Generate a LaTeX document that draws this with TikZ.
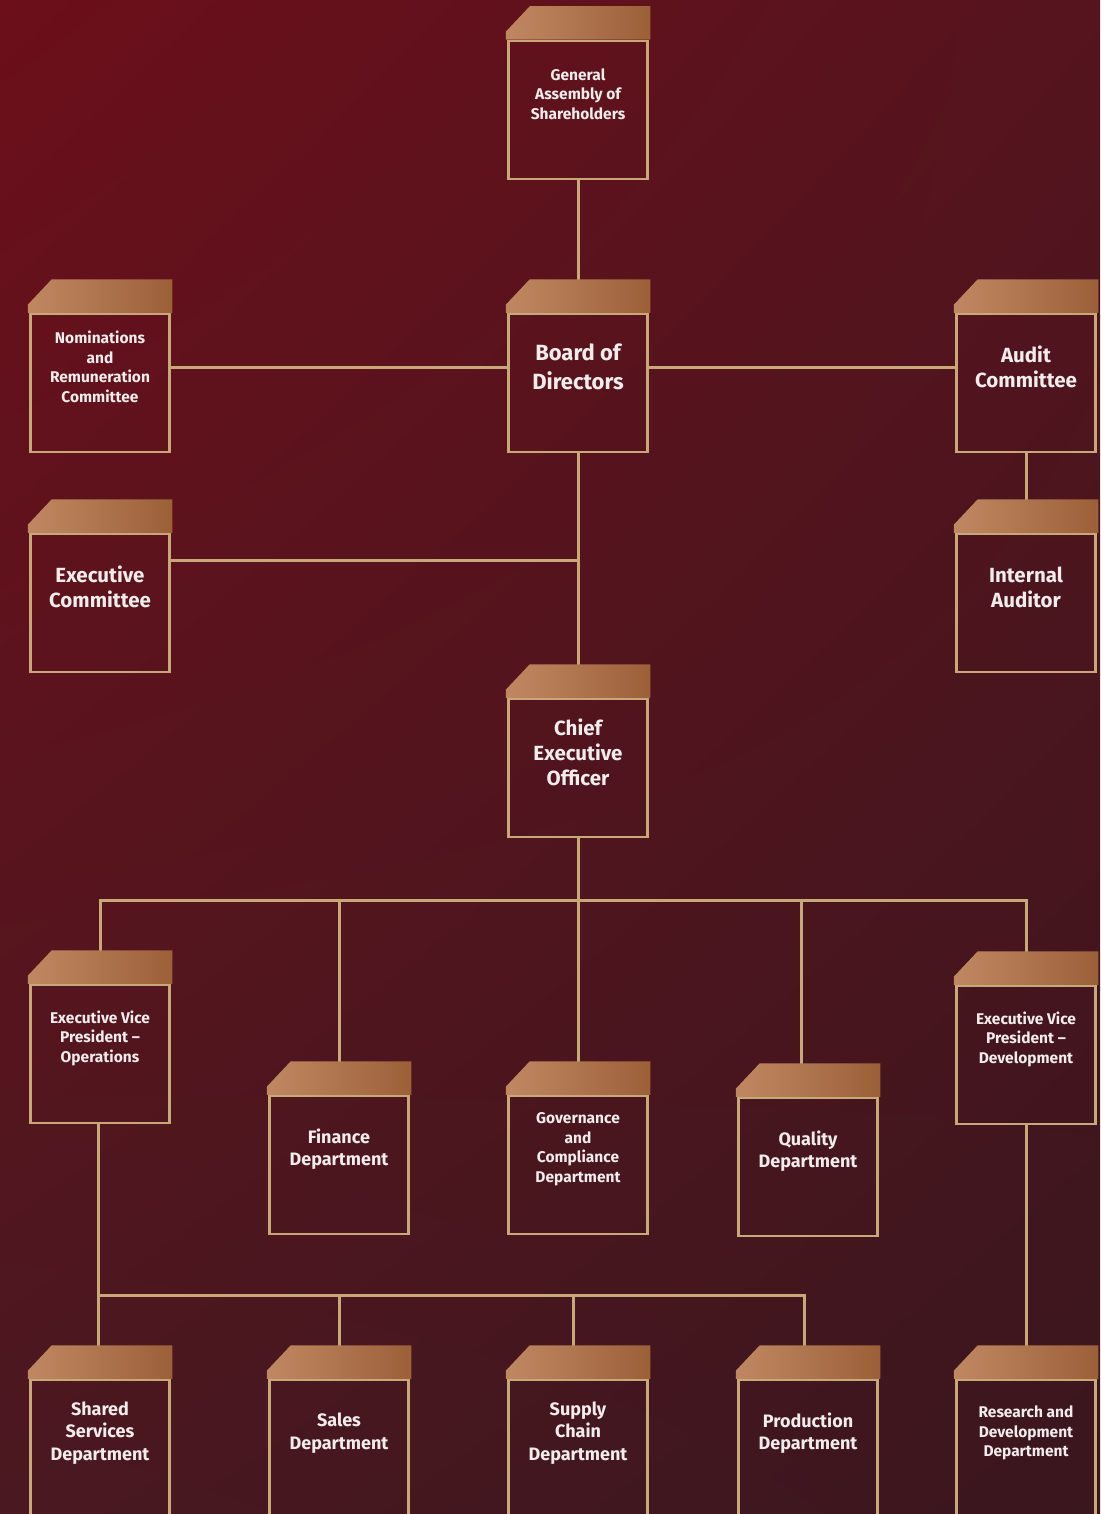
\documentclass[tikz,border=0pt]{standalone}
\usepackage{fontspec}
\setmainfont{Fira Sans}
\usepackage{tikz}
\usetikzlibrary{positioning,shadings}

\definecolor{bgtl}{HTML}{6C0F1A}
\definecolor{bgtr}{HTML}{55141E}
\definecolor{bgbl}{HTML}{4A1820}
\definecolor{bgbr}{HTML}{3A161E}
\definecolor{gold}{HTML}{C8A878}
\definecolor{bandl}{HTML}{C08862}
\definecolor{bandr}{HTML}{9C6039}
\definecolor{txt}{HTML}{F2ECEC}

\begin{document}
\begin{tikzpicture}[x=1pt,y=-1pt,
    card/.style={draw=gold,line width=2.5pt,minimum width=139pt,minimum height=138pt,inner sep=0pt},
    wire/.style={draw=gold,line width=3pt},
    bigtxt/.style={yshift=16pt,align=center,text=txt,font=\bfseries\fontsize{22}{29}\selectfont},
    midtxt/.style={yshift=16pt,align=center,text=txt,font=\bfseries\fontsize{20.5}{25}\selectfont},
    deptxt/.style={yshift=16pt,align=center,text=txt,font=\bfseries\fontsize{18}{22.5}\selectfont},
    smalltxt/.style={yshift=16pt,align=center,text=txt,font=\bfseries\fontsize{15.5}{19.5}\selectfont}]

  \useasboundingbox (0,0) rectangle (1100,1514);
  \clip (0,0) rectangle (1100,1514);
  \shade[upper left=bgtl,upper right=bgtr,lower left=bgbl,lower right=bgbr] (0,0) rectangle (1100,1514);

  % cards (body only, band goes on top later)
  \node[card,label={[smalltxt]center:General\\Assembly of\\Shareholders}] (ga) at (578,110) {};
  \node[card,label={[bigtxt]center:Board of\\Directors}] (board) at (578,383) {};
  \node[card,label={[smalltxt]center:Nominations\\and\\Remuneration\\Committee}] (nom) at (100,383) {};
  \node[card,label={[midtxt]center:Audit\\Committee}] (audit) at (1026,383) {};
  \node[card,label={[midtxt]center:Executive\\Committee}] (exec) at (100,603) {};
  \node[card,label={[midtxt]center:Internal\\Auditor}] (intaud) at (1026,603) {};
  \node[card,label={[midtxt]center:Chief\\Executive\\Officer}] (ceo) at (578,768) {};

  \node[card,label={[smalltxt]center:Executive Vice\\President --\\Operations}] (evpops) at (100,1054) {};
  \node[card,label={[smalltxt]center:Executive Vice\\President --\\Development}] (evpdev) at (1026,1055) {};
  \node[card,label={[deptxt]center:Finance\\Department}] (finance) at (339,1165) {};
  \node[card,label={[smalltxt]center:Governance\\and\\Compliance\\Department}] (gov) at (578,1165) {};
  \node[card,label={[deptxt]center:Quality\\Department}] (quality) at (808,1167) {};

  \node[card,label={[deptxt]center:Shared\\Services\\Department}] (shared) at (100,1449) {};
  \node[card,label={[deptxt]center:Sales\\Department}] (sales) at (339,1449) {};
  \node[card,label={[deptxt]center:Supply\\Chain\\Department}] (supply) at (578,1449) {};
  \node[card,label={[deptxt]center:Production\\Department}] (production) at (808,1449) {};
  \node[card,label={[smalltxt]center:Research and\\Development\\Department}] (rnd) at (1026,1449) {};

  \coordinate (bus1) at (578,900);
  \coordinate (bus2) at (98,1295);

  % connectors
  \path[wire] (ga.south) -- (board.north)
              ([yshift=16pt]board.west) -- ([yshift=16pt]nom.east)
              ([yshift=16pt]board.east) -- ([yshift=16pt]audit.west)
              (audit.south) -- (intaud.north)
              (board.south) -- (ceo.north)
              ([yshift=43pt]exec.east) -- ([yshift=43pt]exec.east -| board.south)
              (ceo.south) -- (bus1)
              (bus1) -| (evpops.north)
              (bus1) -| (evpdev.north)
              (finance.north |- bus1) -- (finance.north)
              (gov.north |- bus1) -- (gov.north)
              ([xshift=-7pt]quality.north |- bus1) -- ([xshift=-7pt]quality.north)
              ([xshift=-2pt]evpops.south) -- ([xshift=-2pt]shared.north)
              (bus2) -| ([xshift=-4pt]production.north)
              (sales.north |- bus2) -- (sales.north)
              ([xshift=-5pt]supply.north |- bus2) -- ([xshift=-5pt]supply.north)
              (evpdev.south) -- (rnd.north);

  % copper bands on the cards
  \foreach \c in {ga,board,nom,audit,exec,intaud,ceo,evpops,evpdev,finance,gov,quality,shared,sales,supply,production,rnd}{
    \shade[left color=bandl,right color=bandr]
      ([xshift=-1.5pt]\c.north west) -- ++(0,-8) -- ++(24,-25.5) -| ([xshift=1.5pt]\c.north east) -- cycle;
  }
\end{tikzpicture}
\end{document}
